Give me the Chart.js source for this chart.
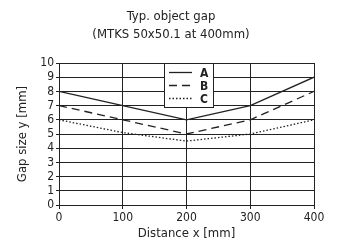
<!DOCTYPE html>
<html>
<head>
<meta charset="utf-8">
<script src="https://cdn.jsdelivr.net/npm/chart.js@4/dist/chart.umd.min.js"></script>
<style>
  html, body { margin: 0; padding: 0; background: #fff; }
  #wrap { width: 337px; height: 245px; }
</style>
</head>
<body>
<div id="wrap"><canvas id="c" width="337" height="245"></canvas></div>
<script>
// data
const distance = [0, 100, 200, 300, 400];
const gapA = [8, 7, 6, 7, 9];
const gapB = [7, 6, 5, 6, 8];
const gapC = [6, 5.1, 4.5, 5, 6];
const seriesNames = ['A', 'B', 'C'];
const yTicks = [0, 1, 2, 3, 4, 5, 6, 7, 8, 9, 10];
const titleLines = ['Typ. object gap', '(MTKS 50x50.1 at 400mm)'];

const FONT = '"DejaVu Sans Condensed", "Liberation Sans Narrow", Arial, sans-serif';
const INK = '#222';

const pts = ys => distance.map((x, i) => ({x, y: ys[i]}));

// title is drawn by hand: it is centred a bit right of the plot
const topTitle = {
  id: 'topTitle',
  afterDraw(chart) {
    const ctx = chart.ctx;
    ctx.save();
    ctx.fillStyle = INK;
    ctx.font = '13px ' + FONT;
    ctx.textAlign = 'center';
    ctx.textBaseline = 'middle';
    titleLines.forEach((t, i) => ctx.fillText(t, 171, 17 + i * 18));
    ctx.restore();
  }
};

// legend box sits inside the plot, near the top middle
const boxLegend = {
  id: 'boxLegend',
  afterDraw(chart) {
    const {ctx, chartArea: a, scales: {x}} = chart;
    const left = Math.round(x.getPixelForValue(164)), right = Math.round(x.getPixelForValue(241));
    const top = Math.round(a.top), h = 44;
    ctx.save();
    ctx.fillStyle = '#fff';
    ctx.fillRect(left, top, right - left, h);
    ctx.strokeStyle = INK; ctx.lineWidth = 1;
    ctx.strokeRect(left + 0.5, top + 0.5, right - left, h);
    chart.data.datasets.forEach((ds, i) => {
      const yy = top + 9.5 + i * 13;
      ctx.beginPath();
      ctx.setLineDash(ds.borderDash || []);
      ctx.strokeStyle = ds.borderColor; ctx.lineWidth = ds.borderWidth;
      ctx.moveTo(left + 5, yy); ctx.lineTo(left + 28, yy); ctx.stroke();
      ctx.setLineDash([]);
      ctx.fillStyle = INK;
      ctx.font = 'bold 12px ' + FONT;
      ctx.textBaseline = 'middle';
      ctx.fillText(ds.label, left + 36, yy + 1);
    });
    ctx.restore();
  }
};

new Chart(document.getElementById('c'), {
  type: 'line',
  data: {
    datasets: [
      {label: seriesNames[0], data: pts(gapA), borderColor: INK, borderWidth: 1.3, pointRadius: 0, tension: 0},
      {label: seriesNames[1], data: pts(gapB), borderColor: INK, borderWidth: 1.3, borderDash: [8, 5], pointRadius: 0, tension: 0},
      {label: seriesNames[2], data: pts(gapC), borderColor: INK, borderWidth: 1.3, borderDash: [1.5, 2], pointRadius: 0, tension: 0},
    ],
  },
  options: {
    responsive: false, animation: false,
    layout: {padding: {left: 0, right: 23, top: 63, bottom: 0}},
    plugins: {
      legend: {display: false},
      tooltip: {enabled: false},
      title: {display: false},
    },
    scales: {
      x: {
        type: 'linear', min: 0, max: 400,
        afterBuildTicks: s => { s.ticks = distance.map(v => ({value: v})); },
        afterFit: s => { s.height = 40; },
        grid: {color: INK, lineWidth: 1, tickLength: 4, drawTicks: true},
        border: {color: INK, width: 1},
        ticks: {color: INK, font: {family: FONT, size: 12}, padding: 2, maxRotation: 0, autoSkip: false},
        title: {display: true, text: 'Distance x [mm]', color: INK, font: {family: FONT, size: 13}, padding: {top: 4}},
      },
      y: {
        min: 0, max: 10,
        afterBuildTicks: s => { s.ticks = yTicks.map(v => ({value: v})); },
        afterFit: s => { s.width = 59; },
        grid: {color: INK, lineWidth: 1, tickLength: 3, drawTicks: true},
        border: {color: INK, width: 1},
        ticks: {color: INK, font: {family: FONT, size: 12}, padding: 2, autoSkip: false},
        title: {display: true, text: 'Gap size y [mm]', color: INK, font: {family: FONT, size: 13}, padding: {top: 15, bottom: 0}},
      },
    },
  },
  plugins: [topTitle, boxLegend],
});
</script>
</body>
</html>
